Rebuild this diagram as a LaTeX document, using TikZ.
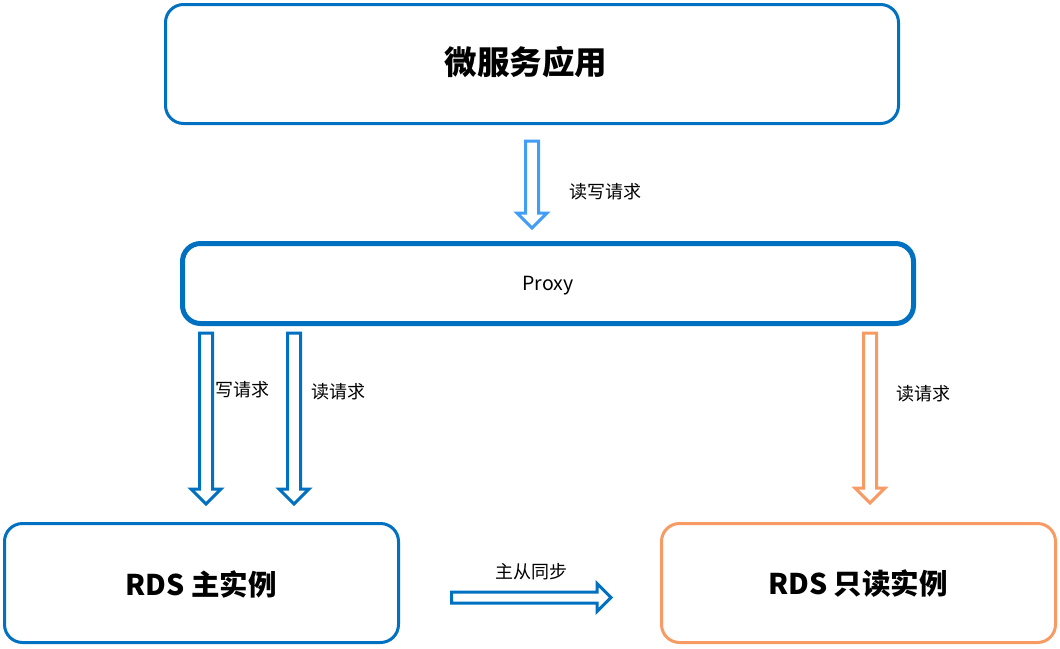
\documentclass[tikz,border=0pt]{standalone}
\usepackage{fontspec}
\setmainfont{Noto Sans CJK SC}
\definecolor{dblue}{RGB}{0,112,192}
\definecolor{lblue}{RGB}{66,157,245}
\definecolor{orng}{RGB}{247,154,100}
\tikzset{
  box/.style={draw=dblue, line width=3pt, rounded corners=18pt, fill=white},
  titletext/.style={font=\bfseries\fontsize{28.5}{32}\selectfont},
  small/.style={font=\fontsize{18}{21}\selectfont},
  barrow/.style={line width=3pt, fill=white, line join=miter, miter limit=10},
}
\newcommand{\barrowdown}[4]{%
  \draw[barrow, draw=#4] (#1-6.5,#2) -- (#1+6.5,#2) -- (#1+6.5,#3-15) -- (#1+15,#3-15)
    -- (#1,#3) -- (#1-15,#3-15) -- (#1-6.5,#3-15) -- cycle;}
\begin{document}
\begin{tikzpicture}[x=1pt,y=-1pt]
\useasboundingbox (0,0) rectangle (1060,648);
% boxes
\draw[box] (165.5,4.5) rectangle (898.5,123.5);
\node[font=\bfseries\fontsize{32.5}{36}\selectfont] (app) at (526,62) {微服务应用};
\draw[box, line width=5pt] (182.5,243.5) rectangle (913.5,323.5);
\node[small, font=\fontsize{19.5}{22}\selectfont] (proxy) at (548,285.5) {Proxy};
\draw[box] (4.5,523.5) rectangle (398.5,642.5);
\node[titletext] (main) at (201,584) {RDS 主实例};
\draw[box, draw=orng] (661.5,523.5) rectangle (1055.5,642.5);
\node[titletext] (ro) at (858,584) {RDS 只读实例};
% arrows
\barrowdown{532}{141}{228}{lblue}
\node[small, anchor=west] (l1) at (566,191.5) {读写请求};
\barrowdown{206}{333}{504}{dblue}
\node[small, anchor=west] (l2) at (212,389.5) {写请求};
\barrowdown{294}{333}{504}{dblue}
\node[small, anchor=west] (l3) at (308,391.5) {读请求};
\barrowdown{870}{333}{503}{orng}
\node[small, anchor=west] (l4) at (893,393.5) {读请求};
\draw[barrow, draw=dblue] (451.5,592) -- (597,592) -- (597,583.5) -- (611,597.5)
  -- (597,611.5) -- (597,603) -- (451.5,603) -- cycle;
\node[small] (l5) at (531,571.5) {主从同步};
\end{tikzpicture}
\end{document}
